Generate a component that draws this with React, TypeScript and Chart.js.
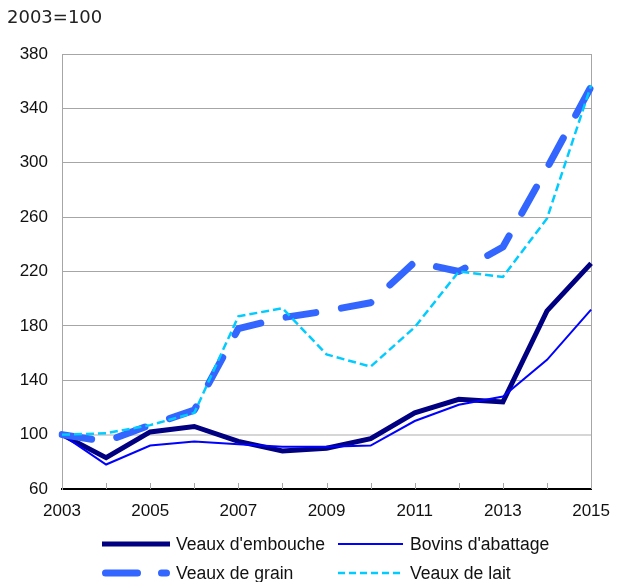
import React, { useEffect, useRef } from "react";
import { Chart, registerables } from "chart.js";

Chart.register(...registerables);

const years = ["2003", "2004", "2005", "2006", "2007", "2008", "2009", "2010", "2011", "2012", "2013", "2014", "2015"];
const yMin = 60;
const yMax = 380;
const yStep = 40;
const baseLabel = "2003=100";

const seriesNames = ["Veaux d'embouche", "Bovins d'abattage", "Veaux de grain", "Veaux de lait"];
const embouche = [100, 83, 102, 106, 95, 88, 90, 97, 116, 126, 124, 191, 226];
const bovins = [100, 78, 92, 95, 93, 91, 91, 92, 110, 122, 128, 155, 192];
const grain = [100, 95, 107, 118, 178, 186, 191, 197, 227, 220, 238, 296, 356];
const lait = [100, 101, 107, 116, 187, 193, 159, 150, 179, 220, 216, 259, 357];

const TICK_FONT = { family: "'Liberation Sans', Arial, sans-serif", size: 17 };
const TEXT_COLOR = "#111";
const GRID = "#a6a6a6";

const framePlugin = {
  id: "frame",
  beforeDatasetsDraw(chart: any) {
    const { ctx, chartArea } = chart;
    const xs = chart.scales.x;
    ctx.save();
    ctx.strokeStyle = GRID;
    ctx.lineWidth = 1;
    ctx.beginPath();
    ctx.moveTo(Math.round(chartArea.right) + 0.5, chartArea.top);
    ctx.lineTo(Math.round(chartArea.right) + 0.5, chartArea.bottom);
    ctx.stroke();
    for (let i = 0; i < years.length; i++) {
      const x = Math.round(xs.getPixelForTick(i)) + 0.5;
      ctx.beginPath();
      ctx.moveTo(x, chartArea.bottom - 6);
      ctx.lineTo(x, chartArea.bottom);
      ctx.stroke();
    }
    ctx.restore();
  },
  afterDraw(chart: any) {
    const { ctx } = chart;
    ctx.save();
    ctx.fillStyle = "#222";
    ctx.font = "18px 'DejaVu Sans', Verdana, sans-serif";
    ctx.textBaseline = "middle";
    ctx.textAlign = "left";
    ctx.fillText(baseLabel, 7, 18);

    const items = [
      { ds: 0, x1: 102, x2: 170, tx: 176, y: 544 },
      { ds: 1, x1: 338, x2: 403, tx: 410, y: 544 },
      { ds: 2, x1: 102, x2: 170, tx: 176, y: 573 },
      { ds: 3, x1: 338, x2: 403, tx: 410, y: 573 },
    ];
    items.forEach((it) => {
      const d: any = chart.data.datasets[it.ds];
      ctx.save();
      ctx.strokeStyle = d.borderColor;
      ctx.lineWidth = d.borderWidth;
      ctx.lineCap = d.borderCapStyle || "butt";
      ctx.setLineDash(d.legendDash || d.borderDash || []);
      const inset = ctx.lineCap === "round" ? d.borderWidth / 2 : 0;
      ctx.beginPath();
      ctx.moveTo(it.x1 + inset, it.y);
      ctx.lineTo(it.x2 - inset, it.y);
      ctx.stroke();
      ctx.restore();
      ctx.fillStyle = TEXT_COLOR;
      ctx.font = "17.6px 'Liberation Sans', Arial, sans-serif";
      ctx.textBaseline = "middle";
      ctx.textAlign = "left";
      ctx.fillText(d.label, it.tx, it.y + 1);
    });
    ctx.restore();
  },
};

export default function App() {
  const ref = useRef<HTMLCanvasElement | null>(null);

  useEffect(() => {
    if (!ref.current) return;
    const chart = new Chart(ref.current, {
      type: "line",
      data: {
        labels: years,
        datasets: [
          {
            label: seriesNames[0],
            data: embouche,
            borderColor: "#000080",
            borderWidth: 5,
            pointRadius: 0,
            tension: 0,
            order: 4,
          } as any,
          {
            label: seriesNames[1],
            data: bovins,
            borderColor: "#0000ff",
            borderWidth: 2,
            pointRadius: 0,
            tension: 0,
            order: 3,
          } as any,
          {
            label: seriesNames[2],
            data: grain,
            borderColor: "#3366ff",
            borderWidth: 7,
            borderDash: [30, 26],
            legendDash: [32, 24],
            borderCapStyle: "round",
            borderJoinStyle: "round",
            pointRadius: 0,
            tension: 0,
            order: 2,
          } as any,
          {
            label: seriesNames[3],
            data: lait,
            borderColor: "#00ccff",
            borderWidth: 2.5,
            borderDash: [8, 4],
            legendDash: [7, 4],
            pointRadius: 0,
            tension: 0,
            order: 1,
          } as any,
        ],
      },
      options: {
        animation: false,
        responsive: false,
        devicePixelRatio: 1,
        layout: { padding: { top: 54, right: 27, bottom: 63, left: 0 } },
        plugins: {
          legend: { display: false },
          title: { display: false },
          tooltip: { enabled: false },
        },
        scales: {
          x: {
            type: "category",
            grid: { display: false, drawTicks: false },
            border: { display: true, color: "#000", width: 2 },
            ticks: {
              autoSkip: false,
              maxRotation: 0,
              minRotation: 0,
              padding: 12,
              font: TICK_FONT,
              color: TEXT_COLOR,
              callback: (_v: any, i: number) => (i % 2 === 0 ? years[i] : ""),
            },
            afterFit: (s: any) => {
              s.height = 30;
            },
          },
          y: {
            min: yMin,
            max: yMax,
            ticks: { stepSize: yStep, padding: 14, font: TICK_FONT, color: TEXT_COLOR },
            grid: {
              drawTicks: false,
              color: (c: any) =>
                c.tick && c.tick.value === yMin ? "rgba(0,0,0,0)" : c.tick && c.tick.value === 100 ? "#d6d6d6" : GRID,
              lineWidth: (c: any) => (c.tick && c.tick.value === 100 ? 2 : 1),
            },
            border: { display: true, color: GRID, width: 1 },
            afterFit: (s: any) => {
              s.width = 62;
            },
          },
        },
      } as any,
      plugins: [framePlugin],
    });
    return () => chart.destroy();
  }, []);

  return (
    <div style={{ position: "fixed", left: 0, top: 0, width: 622, height: 582, background: "#fff" }}>
      <canvas ref={ref} width={622} height={582} style={{ display: "block" }} />
    </div>
  );
}
